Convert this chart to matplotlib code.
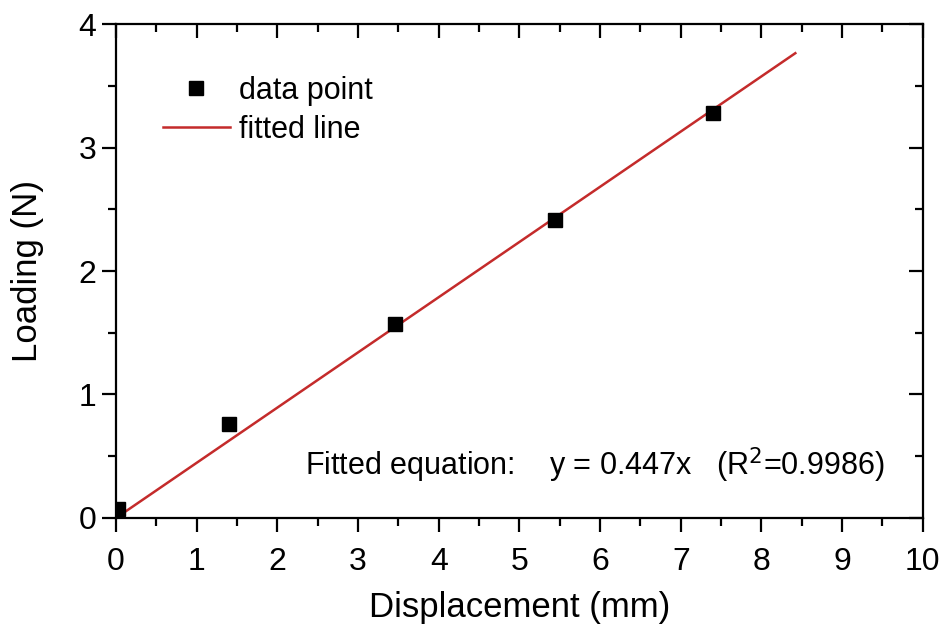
import numpy as np
import matplotlib
matplotlib.use("Agg")
import matplotlib.pyplot as plt

plt.rcParams['font.family'] = ['Liberation Sans', 'DejaVu Sans']

# measured points
displacement = [0.02, 1.40, 3.46, 5.44, 7.40]
loading = [0.07, 0.76, 1.57, 2.41, 3.28]

# linear fit through origin
slope = 0.447
fit_x = [0.0, 8.42]
fit_y = [slope * x for x in fit_x]

fig = plt.figure(figsize=(9.48, 6.32), dpi=100)
ax = fig.add_axes([0.1224, 0.1804, 0.851, 0.7816])

ax.plot(displacement, loading, 's', color='black', markersize=10, label='data point', zorder=3)
ax.plot(fit_x, fit_y, '-', color='#c42b2b', lw=1.8, label='fitted line', zorder=2)

ax.set_xlim(0, 10)
ax.set_ylim(0, 4)
ax.set_xticks(np.arange(0, 11, 1))
ax.set_yticks(np.arange(0, 5, 1))
ax.set_xticks(np.arange(0.5, 10, 1), minor=True)
ax.set_yticks(np.arange(0.5, 4, 1), minor=True)

for s in ax.spines.values():
    s.set_linewidth(1.6)

ax.tick_params(which='major', direction='out', length=10, width=1.6, labelsize=23, pad=4)
ax.tick_params(which='minor', direction='out', length=6, width=1.6)
ax.tick_params(axis='x', which='major', pad=11)
ax.tick_params(axis='x', which='both', top=True)
ax.tick_params(axis='y', which='both', right=True)

# top/right ticks point inward, bottom/left outward
for t in ax.xaxis.get_major_ticks() + ax.xaxis.get_minor_ticks():
    t.tick2line.set_marker(matplotlib.lines.TICKDOWN)
for t in ax.yaxis.get_major_ticks() + ax.yaxis.get_minor_ticks():
    t.tick2line.set_marker(matplotlib.lines.TICKLEFT)

ax.set_xlabel('Displacement (mm)', fontsize=25, labelpad=10)
ax.set_ylabel('Loading (N)', fontsize=25, labelpad=25)

ax.legend(loc='upper left', bbox_to_anchor=(0.058, 0.895), frameon=False, fontsize=22,
          handlelength=2.2, handletextpad=0.3, labelspacing=0.3, borderaxespad=0,
          borderpad=0)

ax.text(0.953, 0.107, r'Fitted equation:    y = 0.447x   (R$^2$=0.9986)',
        transform=ax.transAxes, ha='right', va='center', fontsize=22)

fig.savefig('out.png', dpi=100)
